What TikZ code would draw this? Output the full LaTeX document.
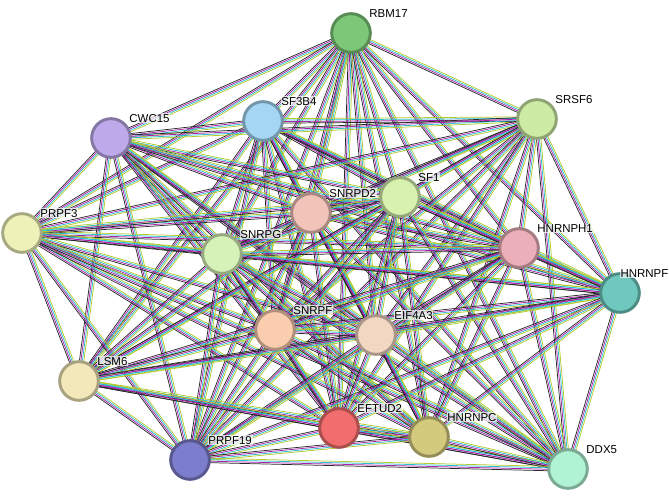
\documentclass[tikz,border=0pt]{standalone}
\usepackage{fontspec}
\setmainfont{Liberation Sans}
\usetikzlibrary{calc,backgrounds}
\definecolor{edgeA}{RGB}{40,40,40}
\definecolor{edgeB}{RGB}{170,30,170}
\definecolor{edgeC}{RGB}{40,190,210}
\definecolor{edgeD}{RGB}{180,200,40}
\tikzset{
  prot/.style={circle,draw=#1!70!black,fill=#1,line width=2.2pt,minimum size=29pt,inner sep=0pt},
  lbl/.style={anchor=south west,inner sep=0.6pt,fill=white,fill opacity=0.7,text opacity=1,font=\fontsize{8.6}{9}\selectfont,xshift=2pt},
  edge/.style={line width=0.55pt}
}
\newcommand{\bundle}[2]{%
  \foreach \c [count=\i] in {edgeA,edgeB,edgeC,edgeD}{%
    \pgfmathsetmacro\d{(\i-2.5)*1.1}%
    \draw[edge,\c] ($(#1)!\d pt!90:(#2)$) -- ($(#2)!\d pt!-90:(#1)$);}}
\begin{document}
\begin{tikzpicture}[x=0.75pt,y=-0.75pt]
  \useasboundingbox (0,0) rectangle (669,502);
  % proteins
  \definecolor{cRBM}{RGB}{125,200,120}
  \definecolor{cSFT}{RGB}{165,215,245}
  \definecolor{cSRS}{RGB}{205,235,165}
  \definecolor{cCWC}{RGB}{190,170,235}
  \definecolor{cPRP}{RGB}{238,242,185}
  \definecolor{cSND}{RGB}{242,195,185}
  \definecolor{cSFO}{RGB}{215,242,175}
  \definecolor{cSNG}{RGB}{215,242,185}
  \definecolor{cHNH}{RGB}{235,175,185}
  \definecolor{cHNF}{RGB}{110,200,190}
  \definecolor{cSNF}{RGB}{250,205,175}
  \definecolor{cEIF}{RGB}{242,215,195}
  \definecolor{cLSM}{RGB}{242,232,185}
  \definecolor{cEFT}{RGB}{242,110,110}
  \definecolor{cHNC}{RGB}{212,202,125}
  \definecolor{cPNN}{RGB}{125,125,205}
  \definecolor{cDDX}{RGB}{175,242,212}
  \node[prot=cRBM,label={[lbl]north east:RBM17}] (rbm17) at (351,33) {};
  \node[prot=cSFT,label={[lbl]north east:SF3B4}] (sf3b4) at (263,121) {};
  \node[prot=cSRS,label={[lbl]north east:SRSF6}] (srsf6) at (537,119) {};
  \node[prot=cCWC,label={[lbl]north east:CWC15}] (cwc15) at (111,138) {};
  \node[prot=cPRP,label={[lbl]north east:PRPF3}] (prpf3) at (22,233) {};
  \node[prot=cSND,label={[lbl]north east:SNRPD2}] (snrpd2) at (311,213) {};
  \node[prot=cSFO,label={[lbl]north east:SF1}] (sf1) at (400,197) {};
  \node[prot=cSNG,label={[lbl]north east:SNRPG}] (snrpg) at (222,254) {};
  \node[prot=cHNH,label={[lbl]north east:HNRNPH1}] (hnrnph1) at (519,248) {};
  \node[prot=cHNF,label={[lbl,anchor=south east,xshift=24pt]north east:HNRNPF}] (hnrnpf) at (620,293) {};
  \node[prot=cSNF,label={[lbl]north east:SNRPF}] (snrpf) at (275,330) {};
  \node[prot=cEIF,label={[lbl]north east:EIF4A3}] (eif4a3) at (376,335) {};
  \node[prot=cLSM,label={[lbl]north east:LSM6}] (lsm6) at (79,381) {};
  \node[prot=cEFT,label={[lbl]north east:EFTUD2}] (eftud2) at (339,428) {};
  \node[prot=cHNC,label={[lbl]north east:HNRNPC}] (hnrnpc) at (429,437) {};
  \node[prot=cPNN,label={[lbl]north east:PRPF19}] (prpf19) at (190,460) {};
  \node[prot=cDDX,label={[lbl]north east:DDX5}] (ddx5) at (568,469) {};
  % interactions
  \begin{pgfonlayer}{background}
    \foreach \a [count=\i] in {rbm17,sf3b4,srsf6,cwc15,prpf3,snrpd2,sf1,snrpg,hnrnph1,hnrnpf,snrpf,eif4a3,lsm6,eftud2,hnrnpc,prpf19,ddx5}{
      \foreach \b [count=\j] in {rbm17,sf3b4,srsf6,cwc15,prpf3,snrpd2,sf1,snrpg,hnrnph1,hnrnpf,snrpf,eif4a3,lsm6,eftud2,hnrnpc,prpf19,ddx5}{
        \ifnum\j>\i \bundle{\a}{\b}\fi
      }
    }
  \end{pgfonlayer}
\end{tikzpicture}
\end{document}
